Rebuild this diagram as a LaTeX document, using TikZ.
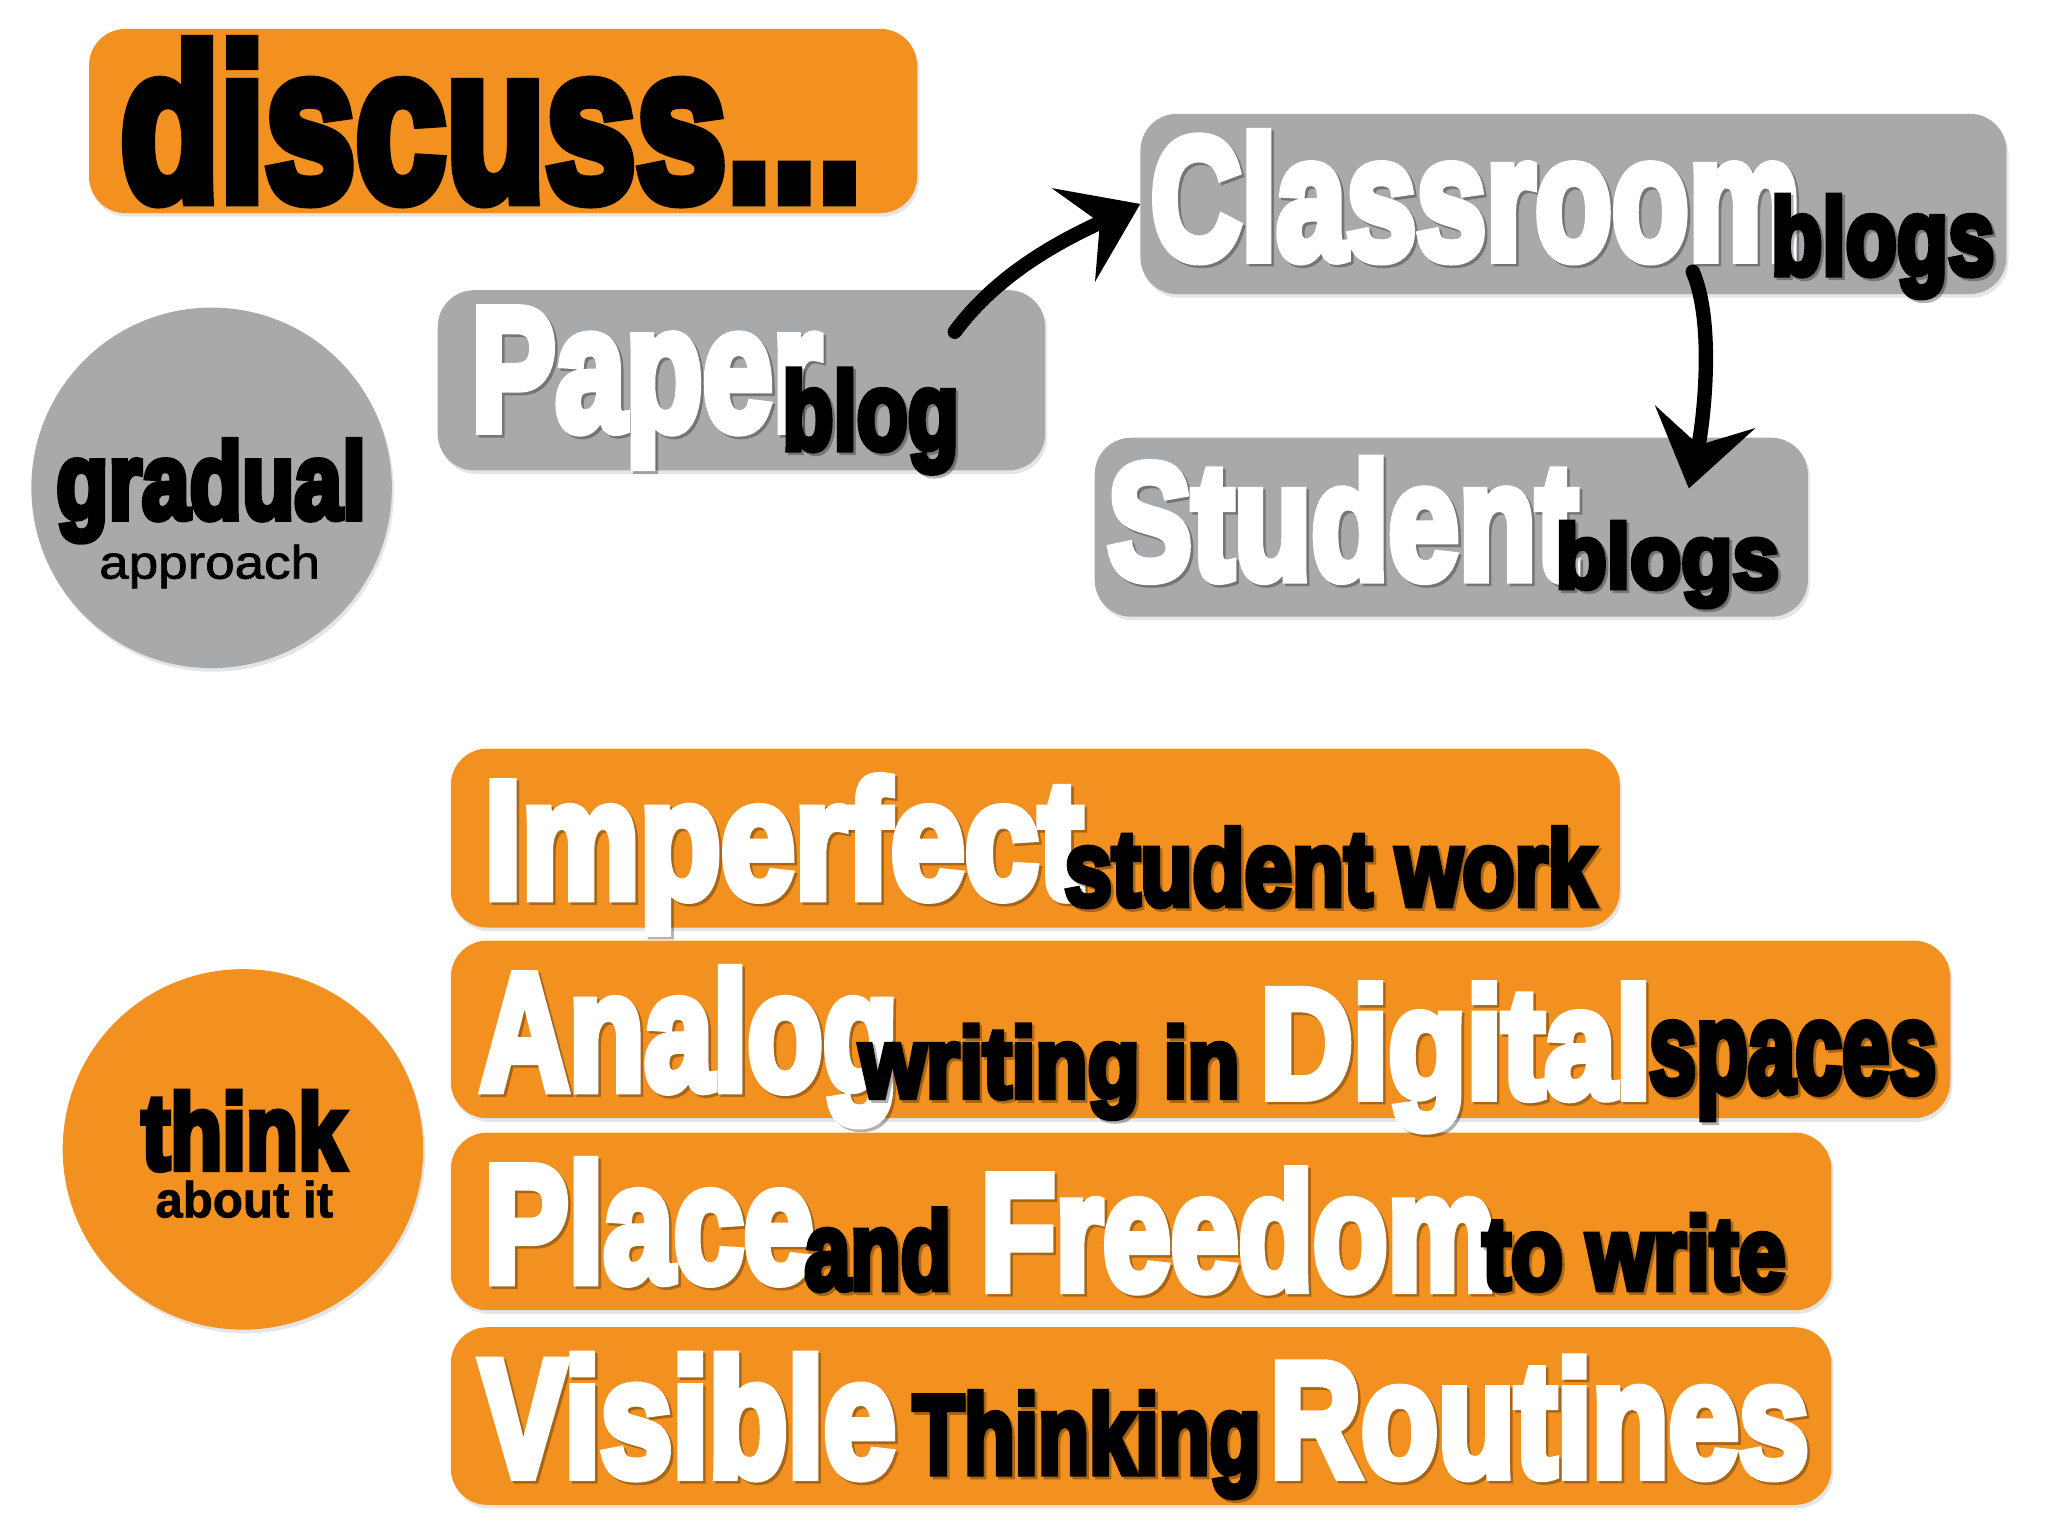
\documentclass[tikz,border=0pt]{standalone}
\usepackage{fontspec}
\usepackage{graphicx}
\usetikzlibrary{arrows.meta,shadows}
\newfontfamily\imp{Liberation Sans}[FakeBold=6]
\newfontfamily\hv{Liberation Sans}[FakeBold=1.5]
\definecolor{org}{HTML}{F2911F}
\definecolor{gry}{HTML}{A7A9AB}
\newdimen\pxu \pxu=0.05cm
\tikzset{
  word/.style={inner sep=0pt, outer sep=0pt, anchor=base west},
  wshadow/.style={word, text=black, opacity=0.3},
  rbox/.style={rounded corners=1.4cm, draw=none, rectangle, anchor=north west, inner sep=0pt,
    drop shadow={shadow xshift=0.08cm, shadow yshift=-0.14cm, opacity=0.2}},
  dot/.style={circle, draw=none, inner sep=0pt, minimum size=276*0.05cm,
    drop shadow={shadow xshift=0.08cm, shadow yshift=-0.14cm, opacity=0.2}},
  bigarrow/.style={line width=0.55cm, line cap=round, black,
    -{Stealth[length=2.8cm, width=3.9cm, inset=1.1cm]}},
}
% boxed word with shadow: name, x, baseline y, width, height, colour, text
\newcommand\bw[7]{%
  \node[wshadow] (#1s) at (#2+2,#3+2) {\resizebox{#4\pxu}{#5\pxu}{\imp\bfseries #7}};
  \node[word, text=#6] (#1) at (#2,#3) {\resizebox{#4\pxu}{#5\pxu}{\imp\bfseries #7}};}
% plain word
\newcommand\pw[7]{%
  \node[word, text=#6] (#1) at (#2,#3) {\resizebox{#4\pxu}{#5\pxu}{#7}};}
% rounded box: name, x, y (top left), width, height, colour
\newcommand\rb[6]{%
  \node[rbox, fill=#6, minimum width=#4*0.05cm, minimum height=#5*0.05cm] (#1) at (#2,#3) {};}
\begin{document}
\begin{tikzpicture}[x=0.05cm, y=-0.05cm]
\useasboundingbox[fill=white] (0,0) rectangle (1568,1176);

% top boxes
\rb{dbox}{68}{22}{634}{141}{org}
\rb{pbox}{335}{222}{465}{138}{gry}
\rb{cbox}{873}{87}{663}{138}{gry}
\rb{sbox}{838}{335}{546}{137}{gry}
% circles
\node[dot, fill=gry] (gcirc) at (162,373.5) {};
\node[dot, fill=org] (ocirc) at (186,880) {};
% lower boxes
\rb{ibox}{345}{573}{895}{137}{org}
\rb{abox}{345}{720}{1148}{136}{org}
\rb{plbox}{345}{867}{1057}{136}{org}
\rb{vbox}{345}{1016}{1057}{136}{org}

% texts
\pw{tdisc}{92}{153}{568}{121}{black}{\imp\bfseries discuss...}
\pw{tgrad}{43}{397}{237}{60}{black}{\imp\bfseries gradual}
\pw{tappr}{76}{443}{169}{26}{black}{\hv approach}
\pw{tthink}{108.5}{895}{156}{59}{black}{\imp\bfseries think}
\pw{tabout}{119}{932}{136}{28}{black}{\hv\bfseries about it}

\bw{tpaper}{361}{329}{268}{92}{white}{Paper}
\bw{tblog}{599}{344}{135}{61}{black}{blog}
\bw{tclass}{881}{198}{497}{96}{white}{Classroom}
\bw{tcblogs}{1356}{210}{171}{60}{black}{blogs}
\bw{tstud}{848}{443}{360}{91}{white}{Student}
\bw{tsblogs}{1191}{450}{171}{50}{black}{blogs}

\bw{timp}{371}{687}{458}{92}{white}{Imperfect}
\bw{tswork}{815}{693}{406}{59}{black}{student work}
\bw{tana}{367.5}{834}{320}{92}{white}{Analog}
\bw{twrit}{658}{840}{291}{55}{black}{writing in}
\bw{tdig}{965}{840}{299}{86}{white}{Digital}
\bw{tspac}{1262.5}{836}{220}{53}{black}{spaces}
\bw{tplace}{371}{981}{252}{92}{white}{Place}
\bw{tand}{616}{987}{112}{61}{black}{and}
\bw{tfree}{751}{987}{394}{91}{white}{Freedom}
\bw{ttow}{1135}{987}{232}{57}{black}{to write}
\bw{tvis}{367.5}{1130}{318}{92}{white}{Visible}
\bw{tthk}{699}{1128}{266}{62}{black}{Thinking}
\bw{trout}{972.5}{1130}{412}{90}{white}{Routines}

% arrows
\coordinate (a1s) at (731,254);
\draw[bigarrow] (a1s) .. controls (765,208) and (815,183) .. (cbox.west);
\coordinate (a2s) at (1296,208);
\coordinate (a2e) at (1293,374);
\draw[bigarrow] (a2s) .. controls (1314,250) and (1303,330) .. (a2e);
\end{tikzpicture}
\end{document}
